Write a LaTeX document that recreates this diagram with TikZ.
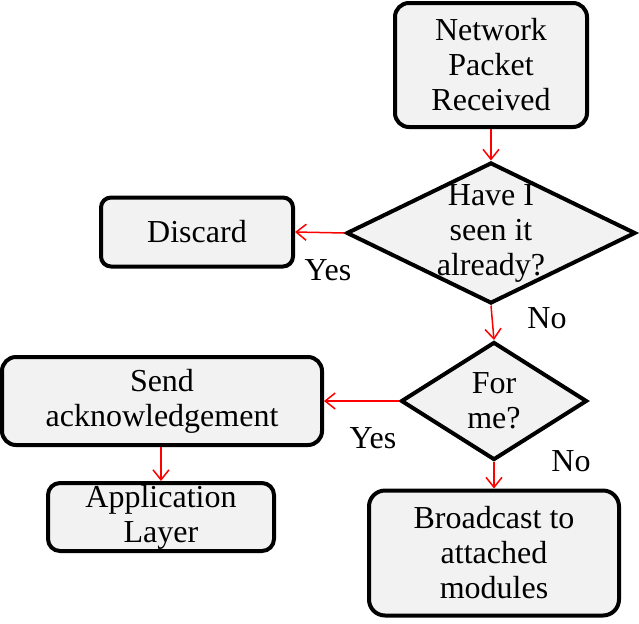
\documentclass[tikz,border=0pt]{standalone}
\usepackage{fontspec}
\setmainfont{Liberation Serif}
\usepackage{tikz}
\usetikzlibrary{arrows.meta,shapes.geometric}

\definecolor{boxgrey}{HTML}{F2F2F2}
\definecolor{arrowred}{HTML}{FF0000}

\tikzset{
  procbox/.style={draw, line width=2pt, rounded corners=7pt, fill=boxgrey, align=center, inner sep=0pt},
  decision/.style={draw, line width=2pt, diamond, fill=boxgrey, inner sep=0pt},
  flow/.style={draw=arrowred, line width=0.75pt, -{Straight Barb[length=5pt,width=8pt]}},
}

\begin{document}
\begin{tikzpicture}[x=0.5pt, y=-0.5pt, auto, font=\fontsize{16}{17.5}\selectfont]

\useasboundingbox (0,0) rectangle (639,623);

\coordinate (P) at (491,65);
\coordinate (S) at (491,233);
\coordinate (F) at (494,401);

\node[procbox, minimum width=96pt, minimum height=62pt] (packet) at (P) {Network\\Packet\\Received};

\node[decision, minimum width=144.5pt, minimum height=70.5pt] (seen) at (S) {};
\node[align=center] (seentext) at (S) {Have I\\seen it\\already?};

\node[procbox, rounded corners=5pt, minimum width=96pt, minimum height=34.5pt] (discard) at (197,232) {Discard};

\node[decision, minimum width=93pt, minimum height=59pt] (forme) at (F) {};
\node[align=center] (formetext) at (F) {For\\me?};

\node[procbox, minimum width=160pt, minimum height=44pt] (ack) at (162,401) {Send\\acknowledgement};
\node[procbox, rounded corners=6pt, minimum width=113pt, minimum height=34pt] (app) at (161,517) {Application\\Layer};
\node[procbox, rounded corners=8pt, minimum width=125pt, minimum height=62.5pt] (bcast) at (494,553) {Broadcast to\\attached\\modules};

\draw[flow] (packet.south) -- (seen.north);
\draw[flow] (seen.west) -- (discard.east);
\draw[flow] (seen.south) -- (forme.north);
\draw[flow] (forme.west) -- (ack.east);
\draw[flow] (ack.south -| app.north) -- (app.north);
\draw[flow] (forme.south) -- (bcast.north);

\node (yesseen) at (328,270) {Yes};
\node (noseen) at (547,318) {No};
\node (yesforme) at (373,438) {Yes};
\node (noforme) at (571,461) {No};

\end{tikzpicture}
\end{document}
